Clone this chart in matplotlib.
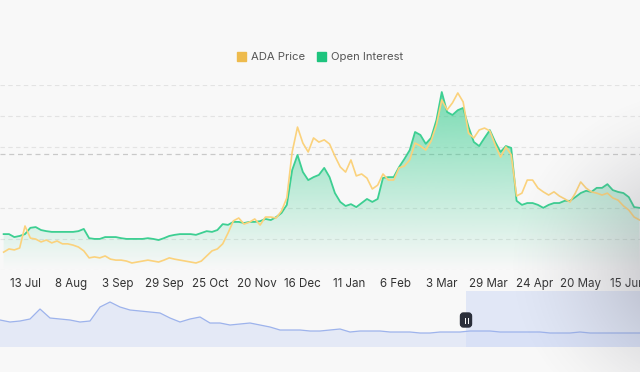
import numpy as np
import pandas as pd
import matplotlib
matplotlib.use("Agg")
import matplotlib.pyplot as plt
import matplotlib.dates as mdates
from matplotlib.patches import Patch, FancyBboxPatch

plt.rcParams["font.family"] = ["Inter", "DejaVu Sans"]

# ── data ─────────────────────────────────────────────────────────────────────
dates = pd.date_range("2023-07-01", periods=120, freq="3D")

ada_price = [
    0.276, 0.286, 0.283, 0.289, 0.358, 0.320, 0.317, 0.308, 0.314, 0.305,
    0.311, 0.302, 0.302, 0.298, 0.292, 0.280, 0.258, 0.261, 0.258, 0.264,
    0.254, 0.251, 0.251, 0.248, 0.242, 0.245, 0.248, 0.251, 0.248, 0.245,
    0.251, 0.258, 0.254, 0.251, 0.248, 0.245, 0.242, 0.248, 0.264, 0.280,
    0.286, 0.302, 0.336, 0.374, 0.383, 0.364, 0.370, 0.380, 0.361, 0.386,
    0.386, 0.383, 0.405, 0.446, 0.590, 0.668, 0.618, 0.590, 0.634, 0.621,
    0.628, 0.615, 0.577, 0.543, 0.527, 0.565, 0.515, 0.521, 0.508, 0.474,
    0.486, 0.521, 0.502, 0.502, 0.540, 0.546, 0.565, 0.618, 0.609, 0.596,
    0.624, 0.675, 0.753, 0.722, 0.744, 0.775, 0.747, 0.649, 0.634, 0.659,
    0.665, 0.656, 0.612, 0.574, 0.606, 0.581, 0.452, 0.461, 0.502, 0.502,
    0.477, 0.465, 0.455, 0.465, 0.452, 0.443, 0.433, 0.461, 0.496, 0.477,
    0.465, 0.461, 0.455, 0.461, 0.446, 0.439, 0.421, 0.408, 0.386, 0.377,
]

# open interest, million USD
open_interest = [
    197, 197, 189, 192, 197, 214, 216, 208, 205, 203,
    203, 203, 203, 203, 205, 211, 186, 184, 184, 189,
    189, 189, 186, 184, 184, 184, 184, 186, 184, 181,
    186, 192, 195, 197, 197, 197, 195, 200, 205, 203,
    208, 224, 222, 230, 230, 227, 230, 230, 232, 238,
    235, 243, 254, 276, 370, 411, 365, 343, 351, 357,
    376, 351, 308, 284, 273, 278, 270, 281, 292, 284,
    292, 349, 351, 351, 378, 400, 424, 473, 465, 441,
    457, 505, 581, 527, 519, 532, 538, 487, 446, 435,
    457, 478, 446, 419, 435, 430, 287, 276, 281, 281,
    276, 268, 276, 281, 281, 287, 287, 297, 308, 314,
    311, 322, 322, 332, 316, 311, 308, 297, 270, 268,
]

# data-zoom overview series (full history, weekly)
overview = [
    27, 25, 26, 28, 38, 29, 28, 27, 25, 26, 40, 45, 40, 37, 36, 35,
    34, 29, 25, 28, 30, 24, 24, 22, 23, 24, 22, 20, 17, 17, 17, 16,
    16, 17, 18, 15, 16, 16, 16, 15, 15, 15, 14, 14, 15, 15, 15, 16,
    16, 16, 15, 15, 15, 15, 15, 14, 14, 14, 15, 14, 14, 14, 14, 14, 14,
]
window_start = 46.6

tick_dates = pd.date_range("2023-07-13", periods=14, freq="26D")

PRICE_LIM = (0.22, 0.80)
OI_LIM = (100, 600)

YELLOW = "#fbd27c"
YELLOW_KEY = "#eebb4d"
GREEN = "#3dcf92"
GREEN_KEY = "#1ec47e"
BG = "#f8f8f8"

# ── figure ───────────────────────────────────────────────────────────────────
fig = plt.figure(figsize=(6.4, 3.72), dpi=100, facecolor=BG)

ax = fig.add_axes([0, 102 / 372, 1, 185 / 372])
ax.set_facecolor("none")
x = mdates.date2num(dates)
d0 = mdates.date2num(pd.Timestamp("2023-07-13"))
xlim = (d0 - 14.04, d0 + 345.3)

# gradient fill under open interest
poly = ax.fill_between(x, open_interest, OI_LIM[0], color="none", lw=0)
n = 256
grad = np.zeros((n, 1, 4))
grad[..., 0], grad[..., 1], grad[..., 2] = 0.20, 0.80, 0.55
grad[:, 0, 3] = np.linspace(0.0, 0.64, n)
im = ax.imshow(grad, extent=[xlim[0], xlim[1], OI_LIM[0], max(open_interest)],
               aspect="auto", origin="lower", zorder=1)
im.set_clip_path(poly.get_paths()[0], transform=ax.transData)
ax.plot(x, open_interest, color=GREEN, lw=1.3, zorder=3)
ax.set_xlim(*xlim)
ax.set_ylim(*OI_LIM)

# grid (dashed) + reference line
for f in [0, 1 / 6, 2 / 6, 4 / 6, 5 / 6, 1]:
    ax.plot([0, 1], [f, f], transform=ax.transAxes, color="#e3e3e3",
            lw=0.8, ls=(0, (4, 3)), zorder=0)
ax.plot([0, 1], [116 / 185, 116 / 185], transform=ax.transAxes,
        color="#c9c9c9", lw=0.9, ls=(0, (4, 3)), zorder=0)

ax2 = ax.twinx()
ax2.plot(x, ada_price, color=YELLOW, lw=1.2, zorder=4)
ax2.set_ylim(*PRICE_LIM)
ax2.set_xlim(*xlim)

ax.set_xticks(mdates.date2num(tick_dates))
ax.set_xticklabels([f"{d.day} {d.strftime('%b')}" for d in tick_dates],
                   fontsize=8.3, color="#333333")
ax.tick_params(axis="x", length=0, pad=6)
for a in (ax, ax2):
    a.set_yticks([])
    for s in a.spines.values():
        s.set_visible(False)

# legend
handles = [Patch(color=YELLOW_KEY, label="ADA Price"),
           Patch(color=GREEN_KEY, label="Open Interest")]
fig.legend(handles=handles, loc="center", bbox_to_anchor=(0.5, 1 - 57 / 372),
           ncol=2, frameon=False, fontsize=8.1, handlelength=0.8,
           handleheight=0.8, handletextpad=0.45, columnspacing=1.1,
           labelcolor="#555555")

# ── data zoom slider ─────────────────────────────────────────────────────────
axs = fig.add_axes([0, 25 / 372, 1, 56 / 372])
axs.set_facecolor("none")
xi = np.arange(len(overview))
axs.fill_between(xi, overview, 0, color="#e4e9f6", lw=0)
axs.plot(xi, overview, color="#9db3ec", lw=0.9)
axs.axvspan(window_start, len(overview) - 1, color="#d3ddf6", alpha=0.6, lw=0)
axs.set_xlim(0, 64)
axs.set_ylim(0, 56)
axs.axis("off")

hx = window_start * 10 / 100
handle = FancyBboxPatch((hx - 0.055, 0.45), 0.11, 0.14,
                        boxstyle="round,pad=0,rounding_size=0.03",
                        transform=fig.dpi_scale_trans, color="#2b2f3a", zorder=10)
fig.patches.append(handle)
for dx in (-0.015, 0.015):
    fig.lines.append(plt.Line2D([hx + dx, hx + dx], [0.495, 0.545],
                                transform=fig.dpi_scale_trans,
                                color="white", lw=0.7, zorder=11))

# soft shadow in the lower right corner
ov = fig.add_axes([0, 0, 1, 1], zorder=20)
ov.axis("off")
X, Y = np.meshgrid(np.arange(640), np.arange(372))
dist = np.sqrt((X - 705) ** 2 + ((Y - 265) * 1.1) ** 2)
shade = np.zeros((372, 640, 4))
shade[..., :3] = (0.42, 0.42, 0.47)
shade[..., 3] = 0.5 * np.clip(1 - dist / 200, 0, 1) ** 1.5
ov.imshow(shade, extent=[0, 640, 372, 0], aspect="auto")
ov.set_xlim(0, 640)
ov.set_ylim(372, 0)

fig.savefig("out.png", dpi=100, facecolor=BG)
